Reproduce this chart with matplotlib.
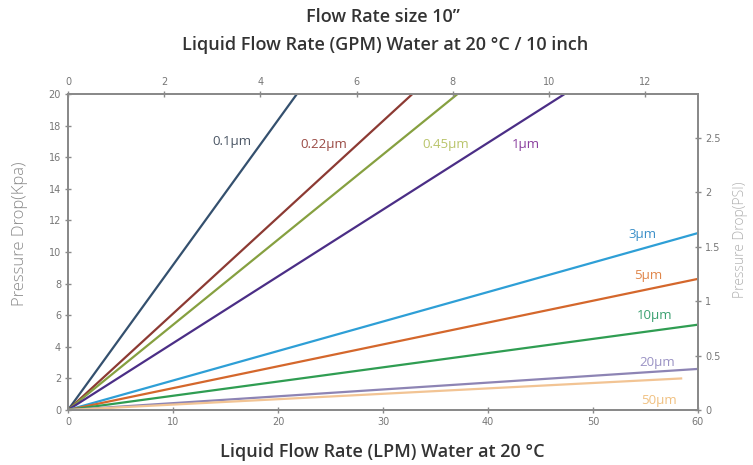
import matplotlib
matplotlib.use("Agg")
import matplotlib.pyplot as plt

# ---- data ----
grades = ["0.1µm", "0.22µm", "0.45µm", "1µm", "3µm", "5µm", "10µm", "20µm", "50µm"]
end_flow_lpm = [21.8, 32.8, 37.1, 47.3, 60.0, 60.0, 60.0, 60.0, 58.5]
end_dp_kpa = [20.0, 20.0, 20.0, 20.0, 11.2, 8.3, 5.4, 2.6, 2.0]
line_colors = ["#34506e", "#8c3a33", "#86a040", "#4b2e86", "#2e9fd6",
               "#d4672c", "#2f9d52", "#8d84b4", "#f2c494"]
label_colors = ["#4a5564", "#9a4a44", "#b9c46a", "#8a3f9e", "#3a8fc8",
                "#e0864a", "#3aa070", "#9a92c4", "#f0c080"]
label_x = [15.6, 24.4, 36.0, 43.6, 54.7, 55.3, 55.9, 56.1, 56.3]
label_y = [17.0, 16.8, 16.8, 16.8, 11.1, 8.5, 6.0, 3.0, 0.63]

lpm_ticks = [0, 10, 20, 30, 40, 50, 60]
kpa_ticks = [0, 2, 4, 6, 8, 10, 12, 14, 16, 18, 20]
gpm_ticks = [0, 2, 4, 6, 8, 10, 12]
psi_ticks = [0, 0.5, 1, 1.5, 2, 2.5]
psi_tick_labels = ["0", "0.5", "1", "1.5", "2", "2.5"]
gpm_max = 13.1
psi_max = 2.9

title1 = "Flow Rate size 10”"
title2 = "Liquid Flow Rate (GPM) Water at 20 °C / 10 inch"
xlabel = "Liquid Flow Rate (LPM) Water at 20 °C"
ylabel_left = "Pressure Drop(Kpa)"
ylabel_right = "Pressure Drop(PSI)"

# ---- figure ----
fig = plt.figure(figsize=(7.53, 4.65), dpi=100)
ax = fig.add_axes([68/753, 1 - 410/465, 630/753, 316/465])

for g, fx, dy, c in zip(grades, end_flow_lpm, end_dp_kpa, line_colors):
    ax.plot([0, fx], [0, dy], color=c, lw=1.6, solid_capstyle="butt", clip_on=True)

for g, x, y, c in zip(grades, label_x, label_y, label_colors):
    ax.text(x, y, g, color=c, fontsize=9.5, ha="center", va="center",
            family="Open Sans")

ax.set_xlim(0, 60)
ax.set_ylim(0, 20)
ax.set_xticks(lpm_ticks)
ax.set_yticks(kpa_ticks)

frame_c = "#8a8a8a"
tick_c = "#777777"
for sp in ax.spines.values():
    sp.set_color(frame_c)
    sp.set_linewidth(1.4)
ax.tick_params(axis="both", direction="inout", length=4, width=1, colors=frame_c,
               labelcolor=tick_c, labelsize=7, pad=3)

ax_top = ax.twiny()
ax_top.set_xlim(0, gpm_max)
ax_top.set_xticks(gpm_ticks)
ax_right = ax.twinx()
ax_right.set_ylim(0, psi_max)
ax_right.set_yticks(psi_ticks)
ax_right.set_yticklabels(psi_tick_labels)
for a in (ax_top, ax_right):
    for sp in a.spines.values():
        sp.set_color(frame_c)
        sp.set_linewidth(1.4)
    a.tick_params(axis="both", direction="inout", length=4, width=1, colors=frame_c,
                  labelcolor=tick_c, labelsize=7, pad=3)

fig.text(20/753, 1 - 234/465, ylabel_left, ha="center", va="center", rotation=90,
         color="#8a8a8a", fontsize=12, family="Open Sans", fontweight="light")
fig.text(741/753, 1 - 240/465, ylabel_right, ha="center", va="center", rotation=90,
         color="#b0b0b0", fontsize=10, family="Open Sans", fontweight="light")

fig.text(383/753, 1 - 17/465, title1, ha="center", va="center",
         fontsize=13, color="#333333", family="Open Sans", fontweight="semibold")
fig.text(385/753, 1 - 45/465, title2, ha="center", va="center",
         fontsize=13, color="#333333", family="Open Sans", fontweight="semibold")
fig.text(382/753, 1 - 452/465, xlabel, ha="center", va="center",
         fontsize=13, color="#333333", family="Open Sans", fontweight="semibold")

fig.savefig("out.png", dpi=100)
